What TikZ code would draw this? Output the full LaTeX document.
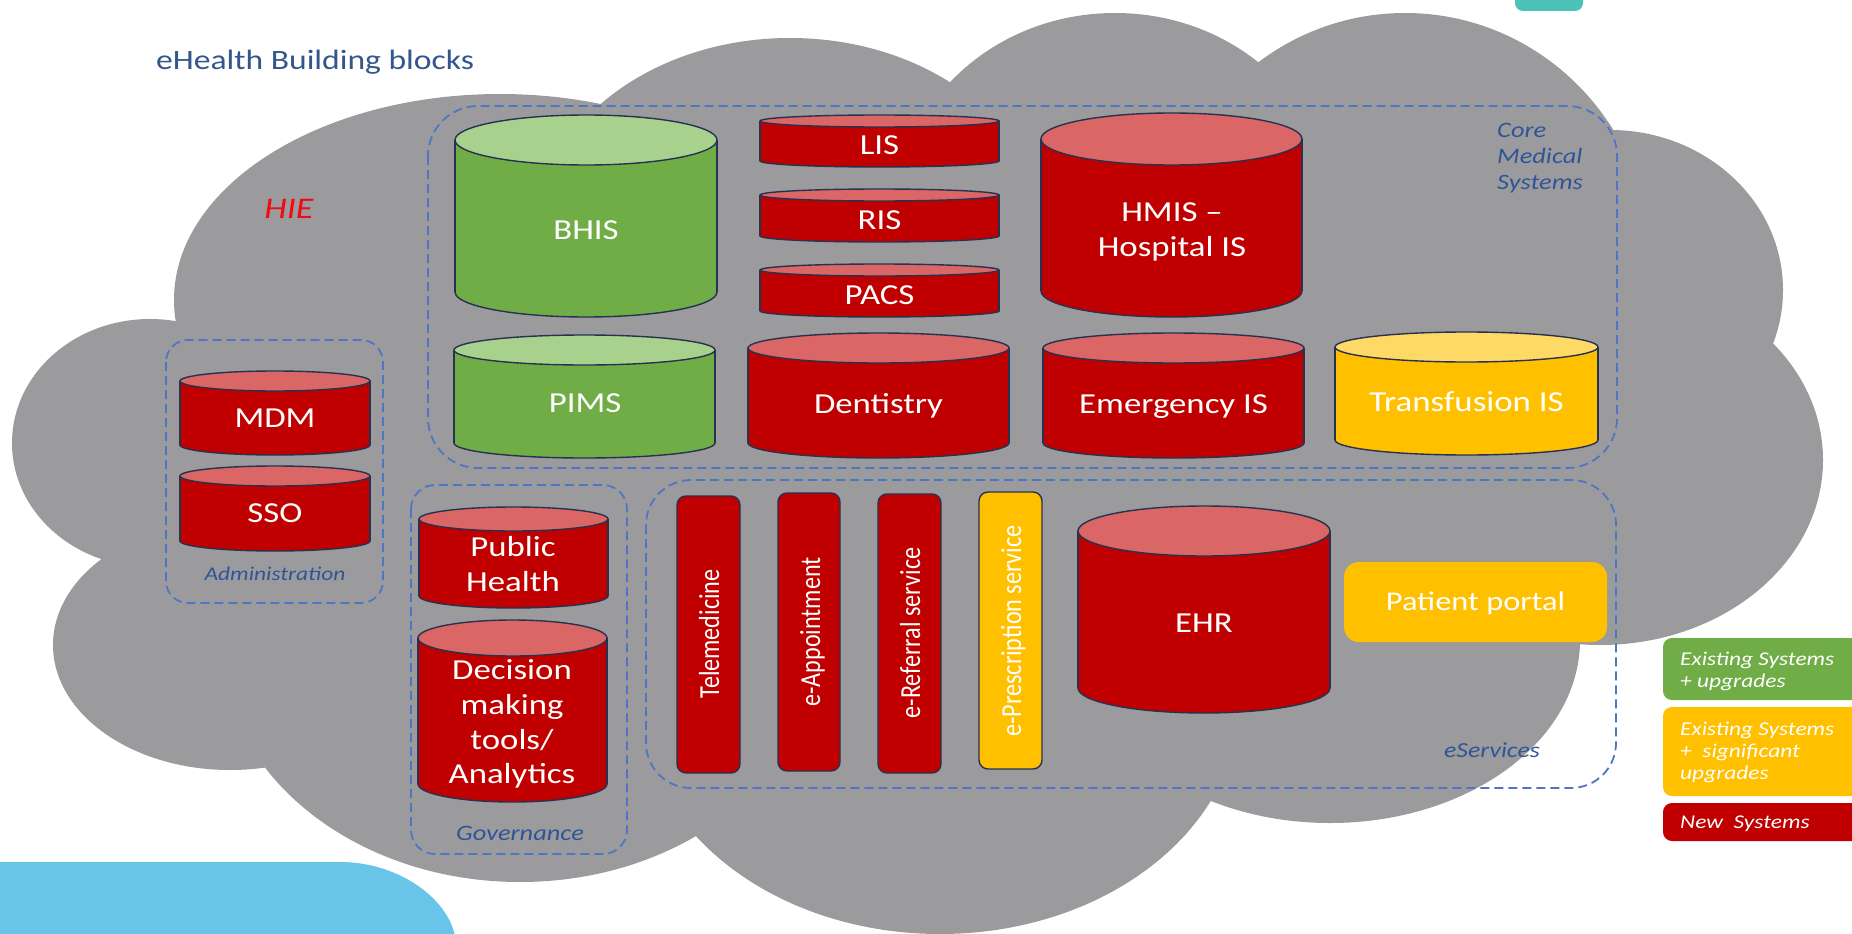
\documentclass[tikz,border=0pt]{standalone}
\usepackage{fontspec}
\setmainfont[FakeStretch=1.2]{Carlito}
\newfontfamily\vfont[FakeStretch=0.833]{Carlito}
\definecolor{cloudgray}{RGB}{155,155,158}
\definecolor{redbody}{RGB}{192,0,0}
\definecolor{redtop}{RGB}{218,102,102}
\definecolor{greenbody}{RGB}{112,173,71}
\definecolor{greentop}{RGB}{169,209,142}
\definecolor{yellowbody}{RGB}{255,192,0}
\definecolor{yellowtop}{RGB}{255,217,102}
\definecolor{cylline}{RGB}{38,50,80}
\definecolor{dashblue}{RGB}{78,118,196}
\definecolor{labelblue}{RGB}{47,85,151}
\definecolor{titleblue}{RGB}{52,86,140}
\definecolor{hiered}{RGB}{240,10,20}
\definecolor{tealc}{RGB}{76,194,184}
\definecolor{skyblue}{RGB}{104,196,233}
\newcommand\setfs[1]{\fontsize{#1}{#1}\selectfont}
\newcommand\cyl[7]{%
  \pgfmathsetmacro\cylcx{(#1+#3)/2}%
  \pgfmathsetmacro\cylrx{(#3-#1)/2}%
  \filldraw[fill=#6,draw=cylline,line width=1.4pt] (\cylcx,#4-#5) ellipse[x radius=\cylrx,y radius=#5];
  \fill[#6] (#1,#2+#5) rectangle (#3,#4-#5);
  \draw[cylline,line width=1.4pt] (#1,#2+#5) -- (#1,#4-#5) (#3,#2+#5) -- (#3,#4-#5);
  \filldraw[fill=#7,draw=cylline,line width=1.4pt] (\cylcx,#2+#5) ellipse[x radius=\cylrx,y radius=#5];
}
\tikzset{
  lab/.style={text=white, font=\setfs{29}, anchor=base, inner sep=0pt},
  vlab/.style={text=white, font=\vfont\setfs{29}, anchor=base, rotate=90, inner sep=0pt},
  grp/.style={draw=dashblue, line width=1.8pt, dash pattern=on 9pt off 5pt},
  grplab/.style={text=labelblue, anchor=base, inner sep=0pt},
  bar/.style={draw=cylline, line width=1.4pt, rounded corners=9pt},
  legbox/.style={rounded corners=9pt},
  legtxt/.style={text=white, font=\itshape\setfs{19.5}, anchor=base west, inner sep=0pt},
  cloud/.style={fill=cloudgray}
}
\begin{document}
\begin{tikzpicture}[x=1pt,y=-1pt]
\useasboundingbox (0,0) rectangle (1852,934);
\clip (0,0) rectangle (1852,934);
\fill[white] (0,0) rectangle (1852,934);
% cloud
\fill[cloud] (500,300) ellipse[x radius=326,y radius=206];
\fill[cloud] (790,238) ellipse[x radius=255,y radius=200];
\fill[cloud] (1115,213) ellipse[x radius=218,y radius=200];
\fill[cloud] (1405,263) ellipse[x radius=246,y radius=250];
\fill[cloud] (1610,290) ellipse[x radius=173,y radius=160];
\fill[cloud] (1600,460) ellipse[x radius=223,y radius=185];
\fill[cloud] (1330,640) ellipse[x radius=250,y radius=183];
\fill[cloud] (940,700) ellipse[x radius=300,y radius=234];
\fill[cloud] (520,640) ellipse[x radius=300,y radius=242];
\fill[cloud] (230,645) ellipse[x radius=177,y radius=125];
\fill[cloud] (150,443) ellipse[x radius=138,y radius=124];
\fill[cloud] (150,443) -- (230,645) -- (520,640) -- (940,700) -- (1330,640) -- (1600,460) -- (1610,290) -- (1405,263) -- (1115,213) -- (790,238) -- (500,300) -- cycle;
% decorative shapes
\fill[skyblue] (-5,862) -- (340,862) .. controls (403,862) and (455,904) .. (456,945) -- (-5,945) -- cycle;
\fill[tealc,rounded corners=8pt] (1515,-20) rectangle (1583,11);
% title and HIE
\node[text=titleblue, font=\setfs{28}, anchor=base west, inner sep=0pt] (title) at (156,70) {eHealth Building blocks};
\node[text=hiered, font=\itshape\setfs{30}, anchor=base, inner sep=0pt] (hie) at (289,218) {HIE};
% group boxes
\draw[grp, rounded corners=50pt] (428,106) rectangle (1617,468);
\draw[grp, rounded corners=45pt] (646,480) rectangle (1616,788);
\draw[grp, rounded corners=22pt] (166,340) rectangle (383,603);
\draw[grp, rounded corners=24pt] (411,485) rectangle (627,854);
\node[grplab, font=\itshape\setfs{22}, anchor=base west] (core1) at (1497,137) {Core};
\node[grplab, font=\itshape\setfs{22}, anchor=base west] (core2) at (1497,163) {Medical};
\node[grplab, font=\itshape\setfs{22}, anchor=base west] (core3) at (1497,189) {Systems};
\node[grplab, font=\itshape\setfs{21.5}] (eserv) at (1492,757) {eServices};
\node[grplab, font=\itshape\setfs{19.5}] (admin) at (275,580) {Administration};
\node[grplab, font=\itshape\setfs{22}] (gov) at (520,840) {Governance};
% core medical systems
\cyl{455}{115}{717}{317}{25}{greenbody}{greentop}
\cyl{760}{115}{999}{167}{6}{redbody}{redtop}
\cyl{760}{189}{999}{242}{6}{redbody}{redtop}
\cyl{760}{264}{999}{317}{6}{redbody}{redtop}
\cyl{1041}{113}{1302}{317}{26}{redbody}{redtop}
\cyl{454}{335}{715}{458}{15}{greenbody}{greentop}
\cyl{748}{333}{1009}{458}{15}{redbody}{redtop}
\cyl{1043}{333}{1304}{458}{15}{redbody}{redtop}
\cyl{1335}{332}{1598}{455}{15}{yellowbody}{yellowtop}
\node[lab] (bhis) at (586,239) {BHIS};
\node[lab] (lis) at (879.5,154) {LIS};
\node[lab] (ris) at (879.5,229) {RIS};
\node[lab] (pacs) at (879.5,304) {PACS};
\node[lab] (hmis1) at (1172,221) {HMIS –};
\node[lab] (hmis2) at (1172,256) {Hospital IS};
\node[lab] (pims) at (585,412) {PIMS};
\node[lab] (dent) at (878.5,413) {Dentistry};
\node[lab] (emerg) at (1173.5,413) {Emergency IS};
\node[lab] (transf) at (1466.5,411) {Transfusion IS};
% administration
\cyl{180}{371}{370}{455}{10}{redbody}{redtop}
\cyl{180}{466}{370}{551}{10}{redbody}{redtop}
\node[lab] (mdm) at (275,427) {MDM};
\node[lab] (sso) at (275,522) {SSO};
% governance
\cyl{419}{507}{608}{608}{12}{redbody}{redtop}
\cyl{418}{620}{607}{802}{18}{redbody}{redtop}
\node[lab] (pub1) at (513,556) {Public};
\node[lab] (pub2) at (513,591) {Health};
\node[lab] (dec1) at (512,679) {Decision};
\node[lab] (dec2) at (512,714) {making};
\node[lab] (dec3) at (512,749) {tools/};
\node[lab] (dec4) at (512,783) {Analytics};
% eServices
\draw[bar, fill=redbody] (677,496) rectangle (740,773);
\draw[bar, fill=redbody] (778,493) rectangle (840,771);
\draw[bar, fill=redbody] (878,494) rectangle (941,773);
\draw[bar, fill=yellowbody] (979,492) rectangle (1042,769);
\node[vlab] (tele) at (719,634) {Telemedicine};
\node[vlab] (appt) at (820,632) {e-Appointment};
\node[vlab] (refer) at (920,633) {e-Referral service};
\node[vlab] (presc) at (1021,631) {e-Prescription service};
\cyl{1078}{506}{1330}{713}{25}{redbody}{redtop}
\node[lab] (ehr) at (1204,632) {EHR};
\fill[yellowbody, rounded corners=15pt] (1344,562) rectangle (1607,642);
\node[lab, font=\setfs{27}] (portal) at (1475.5,610) {Patient portal};
% legend
\fill[greenbody, legbox] (1663,638) rectangle (1866,700);
\fill[yellowbody, legbox] (1663,707) rectangle (1866,796);
\fill[redbody, legbox] (1663,803) rectangle (1866,841);
\node[legtxt] (lg1) at (1680,665) {Existing Systems};
\node[legtxt] (lg2) at (1680,687) {+ upgrades};
\node[legtxt] (ly1) at (1680,735) {Existing Systems};
\node[legtxt] (ly2) at (1680,757) {+~~significant};
\node[legtxt] (ly3) at (1680,779) {upgrades};
\node[legtxt] (lr1) at (1680,828) {New~~Systems};
\end{tikzpicture}
\end{document}
